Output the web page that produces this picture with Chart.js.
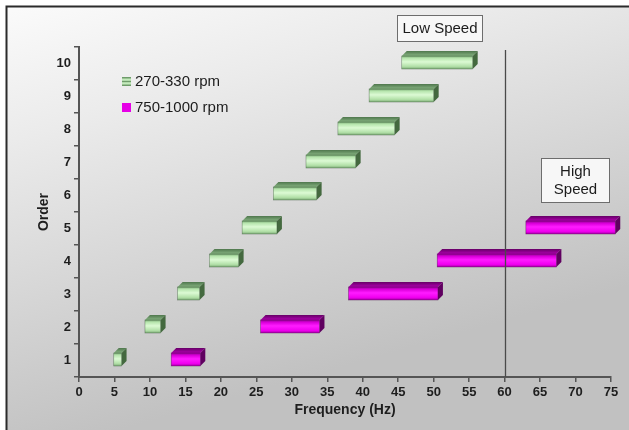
<!DOCTYPE html>
<html>
<head>
<meta charset="utf-8">
<script src="https://cdn.jsdelivr.net/npm/chart.js@4/dist/chart.umd.min.js"></script>
<style>
  html, body { margin: 0; padding: 0; background: #ffffff; }
  #wrap { width: 629px; height: 430px; }
</style>
</head>
<body>
<div id="wrap"><canvas id="chart" width="629" height="430"></canvas></div>
<script>
// Orders (harmonics) on the vertical axis
const orders = ['1', '2', '3', '4', '5', '6', '7', '8', '9', '10'];

// Frequency span [from, to] in Hz of each order, 270-330 rpm
const lowSpeedRanges = [
  [4.9, 6.0], [9.3, 11.5], [13.9, 17.0], [18.4, 22.5], [23.0, 27.9],
  [27.4, 33.5], [32.0, 39.0], [36.5, 44.5], [40.9, 50.0], [45.5, 55.5]
];

// Frequency span [from, to] in Hz of each order, 750-1000 rpm
const highSpeedRanges = [
  [13.0, 17.1], [25.6, 33.9], [38.0, 50.6], [50.5, 67.3], [63.0, 75.6],
  null, null, null, null, null
];

const seriesNames = ['270-330 rpm', '750-1000 rpm'];

// Frequency axis
const freqMin = 0;
const freqMax = 75;
const freqStep = 5;

// Divider between the low and high speed zones
const dividerFrequency = 60;

const FONT = "'Liberation Sans', Arial, Helvetica, sans-serif";

// Shading for the extruded boxes
const FACES = {
  green: {
    front: [[0, '#6f9c6b'], [0.15, '#b4e4ab'], [0.45, '#dcfad4'], [0.8, '#b2e0a8'], [1, '#7fac79']],
    top: ['#4f774d', '#86b381'],
    side: '#44693f',
    edge: 'rgba(40,70,40,0.55)'
  },
  magenta: {
    front: [[0, '#9a009a'], [0.2, '#dd00dd'], [0.45, '#ff1cff'], [0.8, '#f000f0'], [1, '#a800a8']],
    top: ['#660066', '#b000b0'],
    side: '#600060',
    edge: 'rgba(70,0,70,0.6)'
  }
};

function drawBox(ctx, x0, x1, yc, faces) {
  const d = 5;          // extrusion depth
  const h = 13;         // front face height
  const top = Math.round(yc - 8);
  const bot = top + h;

  // top face
  let g = ctx.createLinearGradient(0, top - d, 0, top);
  g.addColorStop(0, faces.top[0]);
  g.addColorStop(1, faces.top[1]);
  ctx.beginPath();
  ctx.moveTo(x0, top);
  ctx.lineTo(x0 + d, top - d);
  ctx.lineTo(x1 + d, top - d);
  ctx.lineTo(x1, top);
  ctx.closePath();
  ctx.fillStyle = g;
  ctx.fill();

  // right side face
  ctx.beginPath();
  ctx.moveTo(x1, top);
  ctx.lineTo(x1 + d, top - d);
  ctx.lineTo(x1 + d, bot - d);
  ctx.lineTo(x1, bot);
  ctx.closePath();
  ctx.fillStyle = faces.side;
  ctx.fill();

  // front face
  g = ctx.createLinearGradient(0, top, 0, bot);
  faces.front.forEach(([p, c]) => g.addColorStop(p, c));
  ctx.fillStyle = g;
  ctx.fillRect(x0, top, x1 - x0, h);

  ctx.strokeStyle = faces.edge;
  ctx.lineWidth = 0.6;
  ctx.strokeRect(x0, top, x1 - x0, h);
}

const backdrop = {
  id: 'backdrop',
  beforeDraw(chart) {
    const { ctx, width, height } = chart;
    ctx.save();
    ctx.fillStyle = '#ffffff';
    ctx.fillRect(0, 0, width, height);
    const g = ctx.createLinearGradient(0, 6, 120, height);
    g.addColorStop(0, '#fbfbfb');
    g.addColorStop(0.3, '#ebebeb');
    g.addColorStop(1, '#c1c1c1');
    ctx.fillStyle = g;
    ctx.fillRect(6, 6, width - 6, height - 6);
    ctx.strokeStyle = '#2b2b2b';
    ctx.lineWidth = 2;
    ctx.beginPath();
    ctx.moveTo(6.5, height);
    ctx.lineTo(6.5, 6.5);
    ctx.lineTo(width, 6.5);
    ctx.stroke();
    ctx.restore();
  }
};

const extrudedBars = {
  id: 'extrudedBars',
  afterDatasetsDraw(chart) {
    const { ctx } = chart;
    ctx.save();
    chart.data.datasets.forEach((ds, i) => {
      const meta = chart.getDatasetMeta(i);
      meta.data.forEach((bar, j) => {
        if (!ds.data[j]) return;
        const x0 = Math.min(bar.base, bar.x);
        const x1 = Math.max(bar.base, bar.x);
        drawBox(ctx, x0, x1, bar.y, ds.faces);
      });
    });

    // speed divider
    const xs = chart.scales.x;
    const px = Math.round(xs.getPixelForValue(dividerFrequency)) + 0.5;
    ctx.strokeStyle = '#4a4a4a';
    ctx.lineWidth = 1.3;
    ctx.beginPath();
    ctx.moveTo(px, chart.chartArea.top + 3);
    ctx.lineTo(px, chart.chartArea.bottom);
    ctx.stroke();
    ctx.restore();
  },
  afterDraw(chart) {
    const { ctx } = chart;
    ctx.save();

    // legend
    const lx = 122;
    const rows = [81.5, 107.5];
    // green swatch, striped like the bars
    ctx.fillStyle = '#c4ebbc';
    ctx.fillRect(lx, rows[0] - 4.5, 9, 9);
    ctx.fillStyle = '#6f9c6b';
    ctx.fillRect(lx, rows[0] - 4.5, 9, 1.5);
    ctx.fillRect(lx, rows[0] - 0.7, 9, 1.4);
    ctx.fillRect(lx, rows[0] + 3, 9, 1.5);
    // magenta swatch
    ctx.fillStyle = '#e600e6';
    ctx.fillRect(lx, rows[1] - 4.5, 9, 9);

    ctx.fillStyle = '#1c1c1c';
    ctx.font = '15px ' + FONT;
    ctx.textAlign = 'left';
    ctx.textBaseline = 'middle';
    ctx.fillText(seriesNames[0], lx + 13, rows[0]);
    ctx.fillText(seriesNames[1], lx + 13, rows[1]);

    // zone labels
    function box(x, y, w, h, lines) {
      ctx.fillStyle = '#f7f7f7';
      ctx.fillRect(x, y, w, h);
      ctx.strokeStyle = '#6d6d6d';
      ctx.lineWidth = 1;
      ctx.strokeRect(x + 0.5, y + 0.5, w - 1, h - 1);
      ctx.fillStyle = '#1c1c1c';
      ctx.textAlign = 'center';
      ctx.textBaseline = 'middle';
      const lh = 17.5;
      const start = y + h / 2 - (lines.length - 1) * lh / 2 + 0.5;
      lines.forEach((t, k) => ctx.fillText(t, x + w / 2, start + k * lh));
    }
    box(397, 15, 86, 27, ['Low Speed']);
    box(541, 158, 69, 45, ['High', 'Speed']);
    ctx.restore();
  }
};

const tickFont = { family: FONT, size: 13, weight: 'bold' };
const titleFont = { family: FONT, size: 14, weight: 'bold' };

new Chart(document.getElementById('chart'), {
  type: 'bar',
  data: {
    labels: orders,
    datasets: [
      {
        label: seriesNames[0],
        data: lowSpeedRanges,
        faces: FACES.green,
        backgroundColor: 'rgba(0,0,0,0)',
        borderWidth: 0,
        grouped: false,
        barThickness: 13
      },
      {
        label: seriesNames[1],
        data: highSpeedRanges,
        faces: FACES.magenta,
        backgroundColor: 'rgba(0,0,0,0)',
        borderWidth: 0,
        grouped: false,
        barThickness: 13
      }
    ]
  },
  options: {
    indexAxis: 'y',
    responsive: false,
    animation: false,
    devicePixelRatio: 1,
    layout: { padding: { left: 0, top: 47, right: 18, bottom: 0 } },
    plugins: {
      legend: { display: false },
      tooltip: { enabled: false }
    },
    scales: {
      x: {
        type: 'linear',
        min: freqMin,
        max: freqMax,
        ticks: {
          stepSize: freqStep,
          color: '#1e1e1e',
          font: tickFont,
          padding: 3,
          maxRotation: 0,
          autoSkip: false
        },
        grid: { drawOnChartArea: false, drawTicks: true, tickLength: 5, color: '#555555', lineWidth: 1.5 },
        border: { display: true, color: '#555555', width: 2 },
        title: {
          display: true,
          text: 'Frequency (Hz)',
          color: '#1e1e1e',
          font: titleFont,
          padding: { top: 0, bottom: 11 }
        },
        afterFit(scale) { scale.height = 53; }
      },
      y: {
        type: 'category',
        reverse: true,
        offset: true,
        ticks: { color: '#1e1e1e', font: tickFont, padding: 3 },
        grid: { offset: true, drawOnChartArea: false, drawTicks: true, tickLength: 5, color: '#555555', lineWidth: 1.5 },
        border: { display: true, color: '#555555', width: 2 },
        title: {
          display: true,
          text: 'Order',
          color: '#1e1e1e',
          font: titleFont,
          padding: { top: 36, bottom: 0 }
        },
        afterFit(scale) { scale.width = 79; }
      }
    }
  },
  plugins: [backdrop, extrudedBars]
});
</script>
</body>
</html>
